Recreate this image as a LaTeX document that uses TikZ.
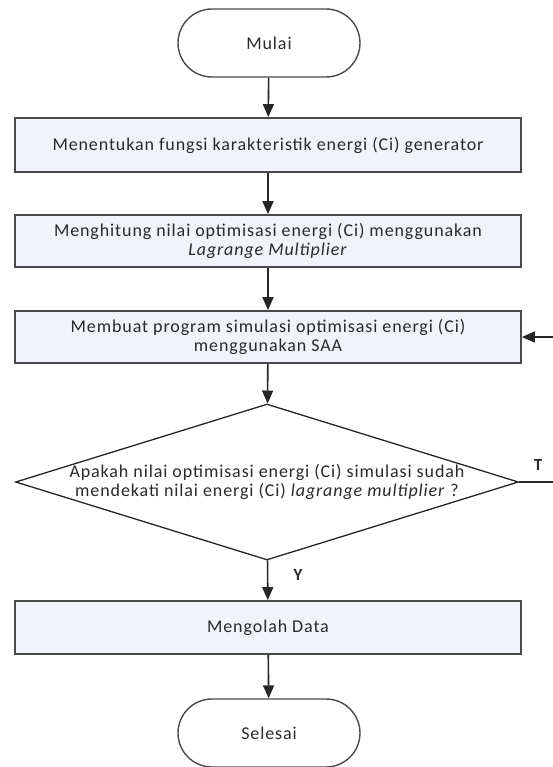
\documentclass[tikz,border=0pt]{standalone}
\usepackage{fontspec}
\setmainfont[LetterSpace=5]{Carlito}
\usetikzlibrary{shapes.geometric,arrows.meta}
\definecolor{boxfill}{HTML}{F1F3FA}
\definecolor{edge}{HTML}{4A4A4A}
\definecolor{txt}{HTML}{2A2A2A}
\tikzset{
  base/.style={draw=edge, line width=1.8pt, fill=boxfill, text=txt, font=\fontsize{18}{19}\selectfont, align=center, inner sep=0pt},
  procbox/.style={base, minimum width=506pt},
  term/.style={base, line width=1.4pt, minimum width=182pt, minimum height=68pt, rounded corners=34pt, fill=white},
  decision/.style={base, shape=diamond, line width=1.3pt, draw=black!85, fill=white, shape aspect=3.22, minimum width=503pt, minimum height=156pt, inner xsep=-22pt},
  arr/.style={draw=black!85, line width=1.6pt, -{Triangle[length=13pt,width=11pt]}},
  lbl/.style={font=\fontsize{17}{19}\bfseries\selectfont, text=txt}
}
\begin{document}
\begin{tikzpicture}[x=1pt,y=-1pt]
\useasboundingbox (0,0) rectangle (553,767);
\clip (0,0) rectangle (553,767);
\node[term] (mulai) at (269,43) {Mulai};
\node[procbox, minimum height=54pt] (b1) at (268,145) {Menentukan fungsi karakteristik energi (Ci) generator};
\node[procbox, minimum height=52pt] (b2) at (268,241) {Menghitung nilai optimisasi energi (Ci) menggunakan\\\textit{Lagrange Multiplier}};
\node[procbox, minimum height=52pt] (b3) at (268,337) {Membuat program simulasi optimisasi energi (Ci)\\menggunakan SAA};
\node[decision] (d) at (267,482) {Apakah nilai optimisasi energi (Ci) simulasi sudah\\mendekati nilai energi (Ci) \textit{lagrange multiplier} ?};
\node[procbox, minimum height=53pt] (b4) at (268,627.5) {Mengolah Data};
\node[term] (selesai) at (269,733) {Selesai};
\coordinate (loop) at (580,482);
\draw[arr] (mulai) -- (b1);
\draw[arr] (b1) -- (b2);
\draw[arr] (b2) -- (b3);
\draw[arr] (b3) -- (d);
\draw[arr] (d) -- (b4);
\draw[arr] (b4) -- (selesai);
\draw[arr] (d.east) -- (loop) |- (b3.east);
\node[lbl] (t) at (538,465) {T};
\node[lbl] (y) at (298,575) {Y};
\end{tikzpicture}
\end{document}
